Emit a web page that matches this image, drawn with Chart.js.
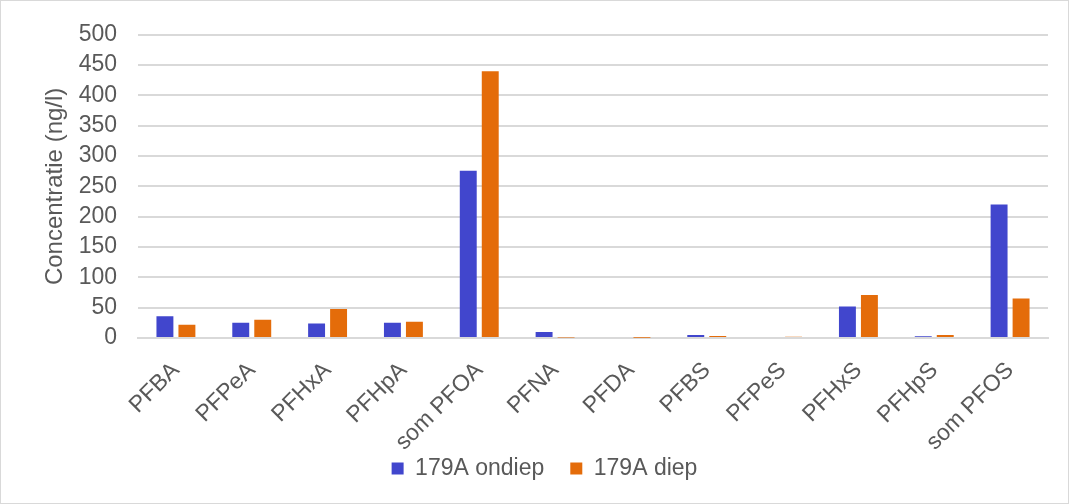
<!DOCTYPE html>
<html>
<head>
<meta charset="utf-8">
<script src="https://cdn.jsdelivr.net/npm/chart.js@4/dist/chart.umd.min.js"></script>
<style>
  html, body { margin: 0; padding: 0; background: #fff; }
  #wrap { width: 1069px; height: 504px; position: relative; }
</style>
</head>
<body>
<div id="wrap"><canvas id="c" width="1069" height="504"></canvas></div>
<script>
const categories = ['PFBA', 'PFPeA', 'PFHxA', 'PFHpA', 'som PFOA', 'PFNA', 'PFDA', 'PFBS', 'PFPeS', 'PFHxS', 'PFHpS', 'som PFOS'];
const ondiep = [36, 25, 24, 25, 276, 10, 1.5, 5, 1.5, 52, 3, 220];
const diep   = [22, 30, 48, 27, 440, 1, 0.5, 3.5, 2, 71, 5, 65];
const seriesNames = ['179A ondiep', '179A diep'];
const yTicks = [0, 50, 100, 150, 200, 250, 300, 350, 400, 450, 500];

const textColor = '#595959';
const gridColor = '#d9d9d9';
const fontFamily = '"Liberation Sans", Arial, sans-serif';

// thin outline round the whole chart
const frame = {
  id: 'frame',
  afterDraw(chart) {
    const ctx = chart.ctx;
    ctx.save();
    ctx.strokeStyle = '#d9d9d9';
    ctx.lineWidth = 1;
    ctx.strokeRect(0.5, 0.5, chart.width - 1, chart.height - 1);
    ctx.restore();
  }
};

new Chart(document.getElementById('c'), {
  type: 'bar',
  data: {
    labels: categories,
    datasets: [
      { label: seriesNames[0], data: ondiep, backgroundColor: '#4146CD' },
      { label: seriesNames[1], data: diep, backgroundColor: '#E46C0A' }
    ]
  },
  plugins: [frame],
  options: {
    responsive: false,
    animation: false,
    devicePixelRatio: 1,
    layout: { padding: { top: 27, right: 21, left: 41, bottom: 14 } },
    datasets: { bar: { categoryPercentage: 0.58, barPercentage: 0.77 } },
    plugins: {
      legend: {
        position: 'bottom',
        labels: {
          color: textColor,
          font: { family: fontFamily, size: 23 },
          boxWidth: 12,
          boxHeight: 12,
          padding: 26
        }
      },
      tooltip: { enabled: false }
    },
    scales: {
      x: {
        afterFit(scale) {
          scale.height = 93;
          // rotated labels may run past the axis box towards the legend
          scale._computeLabelArea = () => undefined;
        },
        grid: { display: false },
        border: { display: true, color: gridColor, width: 2 },
        ticks: {
          color: textColor,
          font: { family: fontFamily, size: 23 },
          maxRotation: 45,
          minRotation: 45,
          autoSkip: false,
          padding: 11
        }
      },
      y: {
        min: 0,
        max: 500,
        afterBuildTicks(scale) { scale.ticks = yTicks.map(v => ({ value: v })); },
        afterFit(scale) { scale.width = 97; },
        grid: { color: gridColor, lineWidth: 2, drawTicks: false },
        border: { display: false },
        ticks: {
          color: textColor,
          font: { family: fontFamily, size: 23 },
          autoSkip: false,
          padding: 21
        },
        title: {
          display: true,
          text: 'Concentratie (ng/l)',
          color: textColor,
          font: { family: fontFamily, size: 24 },
          padding: { top: 0, bottom: 0 }
        }
      }
    }
  }
});
</script>
</body>
</html>
